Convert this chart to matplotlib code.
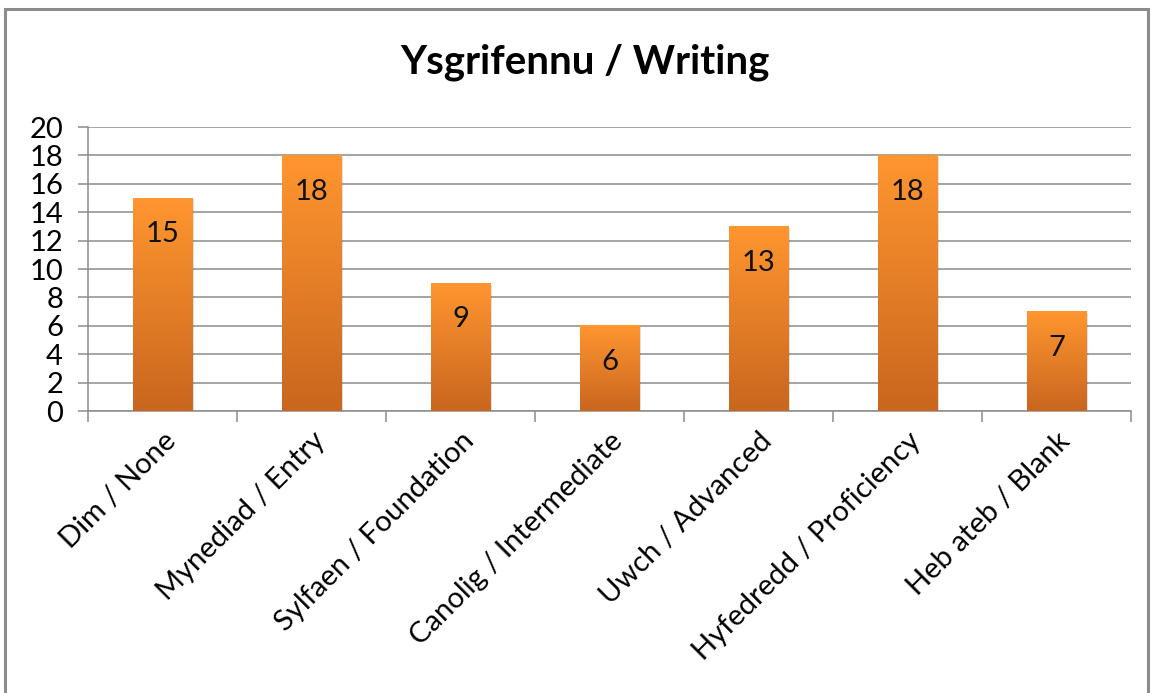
import numpy as np
from matplotlib import pyplot as plt
from matplotlib.colors import LinearSegmentedColormap
from matplotlib.patches import Rectangle

categories = ['Dim / None', 'Mynediad / Entry', 'Sylfaen / Foundation',
              'Canolig / Intermediate', 'Uwch / Advanced',
              'Hyfedredd / Proficiency', 'Heb ateb / Blank']
counts = [15, 18, 9, 6, 13, 18, 7]
yticks = [0, 2, 4, 6, 8, 10, 12, 14, 16, 18, 20]
title = 'Ysgrifennu / Writing'

plt.rcParams['font.family'] = ['Lato', 'DejaVu Sans']

fig = plt.figure(figsize=(11.55, 6.93), dpi=100)
# outer chart frame
fig.patches.append(Rectangle((5 / 1155, -0.05), 1143 / 1155, 1.05 - 9 / 693,
                             transform=fig.transFigure, fill=False,
                             edgecolor='#8c8c8c', linewidth=2.2))

ax = fig.add_axes([88 / 1155, 1 - 411 / 693, 1043 / 1155, 284 / 693])

x = np.arange(len(categories))
bars = ax.bar(x, counts, width=0.4, color='none', edgecolor='none', zorder=3)

cmap = LinearSegmentedColormap.from_list('orange', ['#C9661F', '#FF9630'])
grad = np.linspace(0, 1, 256).reshape(-1, 1)
for b, v in zip(bars, counts):
    x0 = b.get_x()
    x1 = x0 + b.get_width()
    # soft shadow
    ax.add_patch(Rectangle((x0 + 0.012, -0.1), b.get_width(), v, facecolor='#000000',
                           alpha=0.12, edgecolor='none', zorder=2))
    ax.imshow(grad, cmap=cmap, origin='lower', aspect='auto',
              extent=(x0, x1, 0, v), zorder=3)
    ax.annotate(str(v), (b.get_x() + b.get_width() / 2, v), xytext=(0, -26),
                textcoords='offset points', ha='center', va='center',
                fontsize=21, color='#111111', zorder=4)

ax.set_xlim(-0.5, len(categories) - 0.5)
ax.set_ylim(0, 20)
ax.set_yticks(yticks)
ax.yaxis.grid(True, color='#8c8c8c', linewidth=1.1, zorder=0)
ax.set_axisbelow(True)

for s in ['top', 'right']:
    ax.spines[s].set_visible(False)
ax.spines['left'].set_color('#8c8c8c')
ax.spines['bottom'].set_color('#8c8c8c')
ax.spines['left'].set_linewidth(1.1)
ax.spines['bottom'].set_linewidth(1.1)

ax.set_xticks(x)
ax.set_xticklabels(categories, rotation=45, ha='right', rotation_mode='anchor',
                   fontsize=21)
ax.set_xticks(np.arange(-0.5, len(categories)), minor=True)
ax.tick_params(axis='x', which='major', length=0, pad=12)
ax.tick_params(axis='x', which='minor', length=8, color='#8c8c8c', width=1.1)
ax.tick_params(axis='y', length=7, color='#8c8c8c', width=1.1, pad=11, labelsize=21)

fig.text(585 / 1155, 1 - 62 / 693, title, ha='center', va='center',
         fontsize=29, fontweight='bold')

fig.savefig('out.png', dpi=100)
